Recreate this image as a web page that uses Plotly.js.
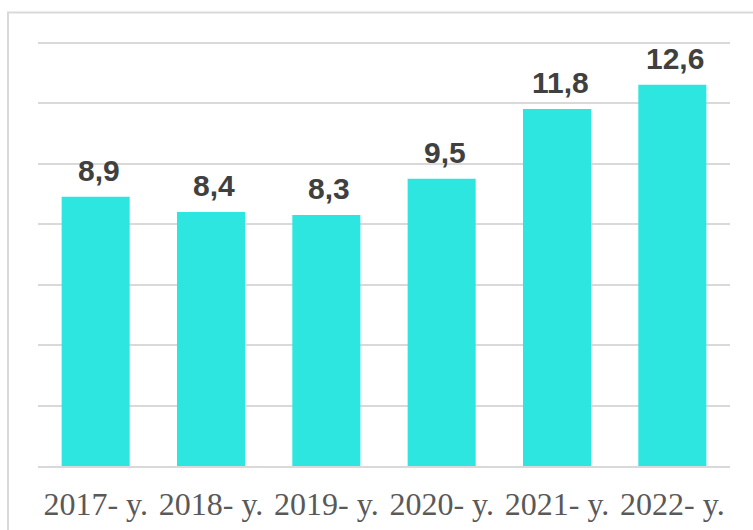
<!DOCTYPE html>
<html>
<head>
<meta charset="utf-8">
<script src="https://cdn.plot.ly/plotly-3.0.1.min.js"></script>
<style>html,body{margin:0;padding:0;background:#fff}#chart{width:753px;height:530px}</style>
</head>
<body>
<div id="chart"></div>
<script>
var categories = ["2017- y.", "2018- y.", "2019- y.", "2020- y.", "2021- y.", "2022- y."];
var values = [8.9, 8.4, 8.3, 9.5, 11.8, 12.6];
var yTicks = [0, 2, 4, 6, 8, 10, 12, 14];

var trace = {
  type: 'bar',
  x: categories,
  y: values,
  marker: {color: '#2EE6E0'},
  hoverinfo: 'none'
};

var annotations = categories.map(function (c, i) {
  return {
    x: c, y: values[i], xref: 'x', yref: 'y',
    text: values[i].toFixed(1).replace('.', ','),
    showarrow: false, yanchor: 'bottom', yshift: 8, xshift: 3,
    font: {family: 'Liberation Sans, Arial, sans-serif', size: 30, color: '#404040', weight: 'bold'}
  };
});

var L = 38, R = 23, T = 41, B = 64, W = 753, H = 530;
var pw = W - L - R, ph = H - T - B;

var layout = {
  width: W, height: H,
  margin: {l: L, r: R, t: T, b: B, pad: 0},
  paper_bgcolor: '#fff',
  plot_bgcolor: '#fff',
  showlegend: false,
  bargap: 0.41,
  xaxis: {
    type: 'category',
    tickfont: {family: 'Liberation Serif, Times New Roman, serif', size: 32, color: '#595959'},
    ticks: '', showline: true, linecolor: '#d9d9d9', linewidth: 2,
    ticklabelstandoff: 9
  },
  yaxis: {
    range: [0, 14.05], tickvals: yTicks, showticklabels: false,
    showgrid: true, gridcolor: '#d9d9d9', gridwidth: 2, zeroline: false
  },
  annotations: annotations,
  shapes: [{
    type: 'rect', xref: 'paper', yref: 'paper',
    x0: (8 - L) / pw, x1: (760 - L) / pw,
    y0: -(H - T - ph + 20) / ph, y1: 1 + (T - 12.5) / ph,
    line: {color: '#d9d9d9', width: 2}, fillcolor: 'rgba(0,0,0,0)', layer: 'below'
  }]
};

Plotly.newPlot('chart', [trace], layout, {displayModeBar: false, staticPlot: true});
</script>
</body>
</html>
